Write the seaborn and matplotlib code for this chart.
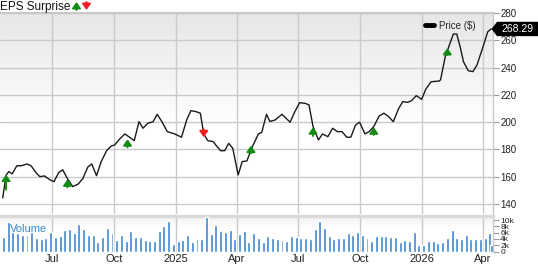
import numpy as np
import pandas as pd
import matplotlib
matplotlib.use("Agg")
import matplotlib.pyplot as plt
import seaborn as sns
from matplotlib.lines import Line2D
from matplotlib.patches import Polygon, FancyArrowPatch

sns.set_style("white")
plt.rcParams['font.family'] = ['Liberation Sans', 'DejaVu Sans']

# ---------------- data ----------------
price_dates = [
    "2024-04-19", "2024-04-24", "2024-04-28", "2024-05-03", "2024-05-10", "2024-05-17",
    "2024-05-25", "2024-05-31", "2024-06-08", "2024-06-13", "2024-06-20", "2024-06-27",
    "2024-07-04", "2024-07-11", "2024-07-17", "2024-07-25", "2024-08-01", "2024-08-09",
    "2024-08-16", "2024-08-23", "2024-08-29", "2024-09-05", "2024-09-12", "2024-09-20",
    "2024-09-27", "2024-10-02", "2024-10-09", "2024-10-17", "2024-10-24", "2024-10-31",
    "2024-11-07", "2024-11-13", "2024-11-20", "2024-11-28", "2024-12-04", "2024-12-11",
    "2024-12-19", "2024-12-30", "2025-01-09", "2025-01-17", "2025-01-23", "2025-01-31",
    "2025-02-06", "2025-02-11", "2025-02-17", "2025-02-25", "2025-03-02", "2025-03-08",
    "2025-03-14", "2025-03-20", "2025-03-26", "2025-04-03", "2025-04-09", "2025-04-16",
    "2025-04-23", "2025-05-03", "2025-05-08", "2025-05-15", "2025-05-20", "2025-05-28",
    "2025-06-07", "2025-06-19", "2025-06-26", "2025-07-03", "2025-07-11", "2025-07-17",
    "2025-07-23", "2025-07-31", "2025-08-06", "2025-08-14", "2025-08-21", "2025-08-28",
    "2025-09-04", "2025-09-11", "2025-09-17", "2025-09-24", "2025-09-30", "2025-10-08",
    "2025-10-14", "2025-10-21", "2025-10-29", "2025-11-05", "2025-11-12", "2025-11-19",
    "2025-11-27", "2025-12-03", "2025-12-10", "2025-12-16", "2025-12-23", "2025-12-31",
    "2026-01-06", "2026-01-14", "2026-01-26", "2026-01-28", "2026-02-04", "2026-02-11",
    "2026-02-16", "2026-02-21", "2026-02-26", "2026-03-03", "2026-03-10", "2026-03-17",
    "2026-03-23", "2026-04-01", "2026-04-08", "2026-04-13",
]
price_values = [
    144.4, 161.0, 163.7, 162.0, 168.0, 168.0,
    169.3, 168.0, 162.5, 160.0, 160.5, 158.0,
    156.3, 163.0, 165.0, 157.6, 152.7, 154.6,
    158.8, 166.9, 169.3, 160.7, 171.0, 179.0,
    182.5, 183.2, 187.4, 191.3, 188.9, 186.4,
    200.3, 195.5, 199.1, 200.3, 205.7, 200.3,
    193.0, 191.3, 188.9, 202.0, 208.4, 207.6,
    206.5, 191.3, 186.4, 185.7, 182.5, 179.0,
    179.0, 184.4, 180.8, 161.2, 171.0, 171.5,
    180.8, 191.3, 192.5, 205.7, 200.5, 201.6,
    205.7, 199.9, 207.6, 214.2, 213.8, 212.6,
    196.7, 186.9, 191.3, 189.3, 195.5, 193.0,
    193.0, 188.9, 188.9, 197.9, 199.9, 191.3,
    193.0, 196.7, 204.5, 206.5, 204.0, 200.3,
    210.1, 215.0, 214.5, 215.7, 219.4, 216.7,
    224.0, 229.6, 230.1, 231.0, 248.0, 257.8,
    264.6, 264.6, 255.3, 244.3, 237.7, 237.0,
    241.9, 255.3, 266.3, 268.29,
]

volume_start = "2024-04-20"
volume_last_date = "2026-04-14"
volume_k = [
    4.7, 9.5, 6.2, 5.8, 5.4, 5.4, 6.3, 4.3, 4.1, 4.3, 6.2, 4.7, 4.9, 6.7, 7.3, 6.0,
    8.7, 7.1, 5.2, 5.2, 3.0, 4.5, 7.6, 5.8, 3.8, 5.1, 3.5, 6.5, 4.7, 4.7, 3.8, 3.4,
    3.3, 6.6, 8.2, 9.7, 2.4, 3.2, 3.8, 5.4, 2.9, 3.9, 4.0, 10.9, 5.5, 8.5, 6.4, 6.2,
    6.7, 4.0, 5.7, 6.6, 2.9, 6.0, 4.3, 3.0, 4.9,
    4.2, 4.0, 3.7, 3.2, 4.9, 4.7, 4.2, 4.3, 4.0, 7.2, 9.7, 7.6, 5.0, 3.9, 4.4, 4.2,
    5.8, 5.4, 6.3, 5.4, 4.2, 3.5, 4.9, 4.9, 4.9, 4.6, 4.6, 3.1, 3.7, 3.4, 6.2, 2.1,
    2.1, 3.5, 3.2, 2.8, 3.1, 4.2, 6.8, 4.3, 3.9, 5.3, 3.9, 3.9, 4.0, 4.4, 6.0, 2.1,
]

eps_dates = ["2024-04-24", "2024-07-24", "2024-10-21", "2025-02-11",
             "2025-04-22", "2025-07-23", "2025-10-21", "2026-02-07"]
eps_head = [161.5, 158.0, 187.4, 188.9, 182.7, 196.2, 196.2, 254.3]
eps_tail = [150.5, 152.2, 181.5, 194.6, 177.1, 189.8, 190.6, 249.2]
eps_beat = [True, True, True, False, True, True, True, True]

x_tick_dates = ["2024-07-01", "2024-10-01", "2025-01-01", "2025-04-01",
                "2025-07-01", "2025-10-01", "2026-01-01", "2026-04-01"]
x_tick_labels = ["Jul", "Oct", "2025", "Apr", "Jul", "Oct", "2026", "Apr"]
price_ticks = [140, 160, 180, 200, 220, 240, 260, 280]
volume_ticks = [0, 2, 4, 6, 8, 10]
volume_tick_labels = ["0", "2k", "4k", "6k", "8k", "10k"]

# ---------------- figure ----------------
W, H = 538, 264
fig = plt.figure(figsize=(W / 100, H / 100), dpi=100)
fig.patch.set_facecolor("white")


def rect(x0, y0, x1, y1):
    return [x0 / W, 1 - y1 / H, (x1 - x0) / W, (y1 - y0) / H]


ax = fig.add_axes(rect(0, 13, 492.5, 214))
axv = fig.add_axes(rect(0, 216, 492.5, 251.5), sharex=ax)

GRID = "#cacaca"
for a, stop, top in ((ax, 0.55, 0.905), (axv, 0.35, 0.94)):
    n = 200
    t = np.linspace(0, 1, n)
    v = np.clip(1 - t / stop, 0, 1)
    g = 1 - (1 - top) * v
    img = np.dstack([g, g, g]).reshape(n, 1, 3)
    a.imshow(img, extent=[0, 1, 0, 1], transform=a.transAxes, aspect="auto",
             zorder=0, interpolation="bilinear")

df_price = pd.DataFrame({"date": pd.to_datetime(price_dates), "price": price_values})
sns.lineplot(data=df_price, x="date", y="price", ax=ax, color="#1a1a1a",
             linewidth=1.0, zorder=3, legend=False)

vol_dates = list(pd.date_range(volume_start, periods=len(volume_k) - 1, freq="7D")) + \
    [pd.Timestamp(volume_last_date)]
axv.bar(vol_dates, volume_k, width=4.4, color="#3c86cf", zorder=3)

ARROW = "-|>,head_width=0.5,head_length=0.7"
# EPS arrows
for d, hy, ty, beat in zip(eps_dates, eps_head, eps_tail, eps_beat):
    dd = pd.Timestamp(d)
    col = "#138a13" if beat else "#f01e1e"
    ax.annotate("", xy=(dd, hy), xytext=(dd, ty),
                arrowprops=dict(arrowstyle=ARROW, color=col, lw=1.4, mutation_scale=5,
                                shrinkA=0, shrinkB=0), zorder=4)

# limits & ticks
xmin, xmax = pd.Timestamp("2024-04-15"), pd.Timestamp("2026-04-15")
ax.set_xlim(xmin, xmax)
ax.set_ylim(132.6, 280)
axv.set_ylim(0, 11.3)

xt = pd.to_datetime(x_tick_dates)
ax.set_xticks(xt)
axv.set_xticks(xt)
axv.set_xticklabels(x_tick_labels)
ax.tick_params(axis="x", length=0, labelbottom=False)
axv.tick_params(axis="x", length=0, labelsize=8, pad=1.5, labelcolor="#222")

ax.yaxis.tick_right()
ax.set_yticks(price_ticks)
ax.set_yticklabels([str(p) for p in price_ticks])
ax.tick_params(axis="y", length=4, width=0.8, color="#999999", labelsize=7,
               pad=1.5, labelcolor="#222")
axv.yaxis.tick_right()
axv.set_yticks(volume_ticks)
axv.set_yticklabels(volume_tick_labels)
axv.tick_params(axis="y", length=4, width=0.8, color="#999999", labelsize=6,
                pad=1.5, labelcolor="#222")

for a in (ax, axv):
    a.set_xlabel("")
    a.set_ylabel("")

ax.grid(True, color=GRID, lw=1, zorder=1)
axv.grid(True, axis="x", color=GRID, lw=1, zorder=1)
axv.grid(False, axis="y")
ax.set_axisbelow(True)
axv.set_axisbelow(True)

for a in (ax, axv):
    a.spines["left"].set_visible(False)
    a.spines["bottom"].set_visible(False)
    a.spines["right"].set_color(GRID)
    a.spines["right"].set_linewidth(1)
ax.spines["top"].set_color("#c8c8c8")
ax.spines["top"].set_linewidth(1.5)
axv.spines["top"].set_color("#dadada")
axv.spines["top"].set_linewidth(2.5)

# Volume label
axv.text(0.02, 0.62, "Volume", transform=axv.transAxes, color="#3d87cc",
         fontsize=8, va="center", ha="left", zorder=5)

# Legend
ax.legend(handles=[Line2D([], [], color="black", lw=3.5)], labels=["Price ($)"],
          loc="upper right", bbox_to_anchor=(482 / W, 1 - 14 / H),
          bbox_transform=fig.transFigure, frameon=False, fontsize=7,
          handlelength=0.9, handletextpad=0.5, borderpad=0.2)

# Title
fig.text(0, 1 - 1 / H, "EPS Surprise", fontsize=8.5, va="top", ha="left", color="#111")
for xpx, up, col in ((76.5, True, "#138a13"), (86.5, False, "#f01e1e")):
    y0, y1 = (H - 10, H - 2) if up else (H - 2, H - 10)
    fig.add_artist(FancyArrowPatch(
        (xpx / W, y0 / H), (xpx / W, y1 / H), transform=fig.transFigure,
        arrowstyle=ARROW, mutation_scale=5, color=col, lw=1.4, shrinkA=0, shrinkB=0))

# Last-price badge
fig.canvas.draw()
last = price_values[-1]
ydisp = ax.transData.transform((ax.get_xlim()[0], last))[1]
yf = ydisp / fig.bbox.height
hh = 7.2 / H
poly = Polygon([(491.5 / W, yf), (497 / W, yf + hh), (1.0, yf + hh), (1.0, yf - hh),
                (497 / W, yf - hh)], closed=True, transform=fig.transFigure,
               facecolor="black", edgecolor="none", zorder=10)
fig.add_artist(poly)
fig.text(517.5 / W, yf, f"{last:.2f}", color="white", fontsize=7.5, ha="center",
         va="center", zorder=11)

fig.savefig("out.png", dpi=100)
